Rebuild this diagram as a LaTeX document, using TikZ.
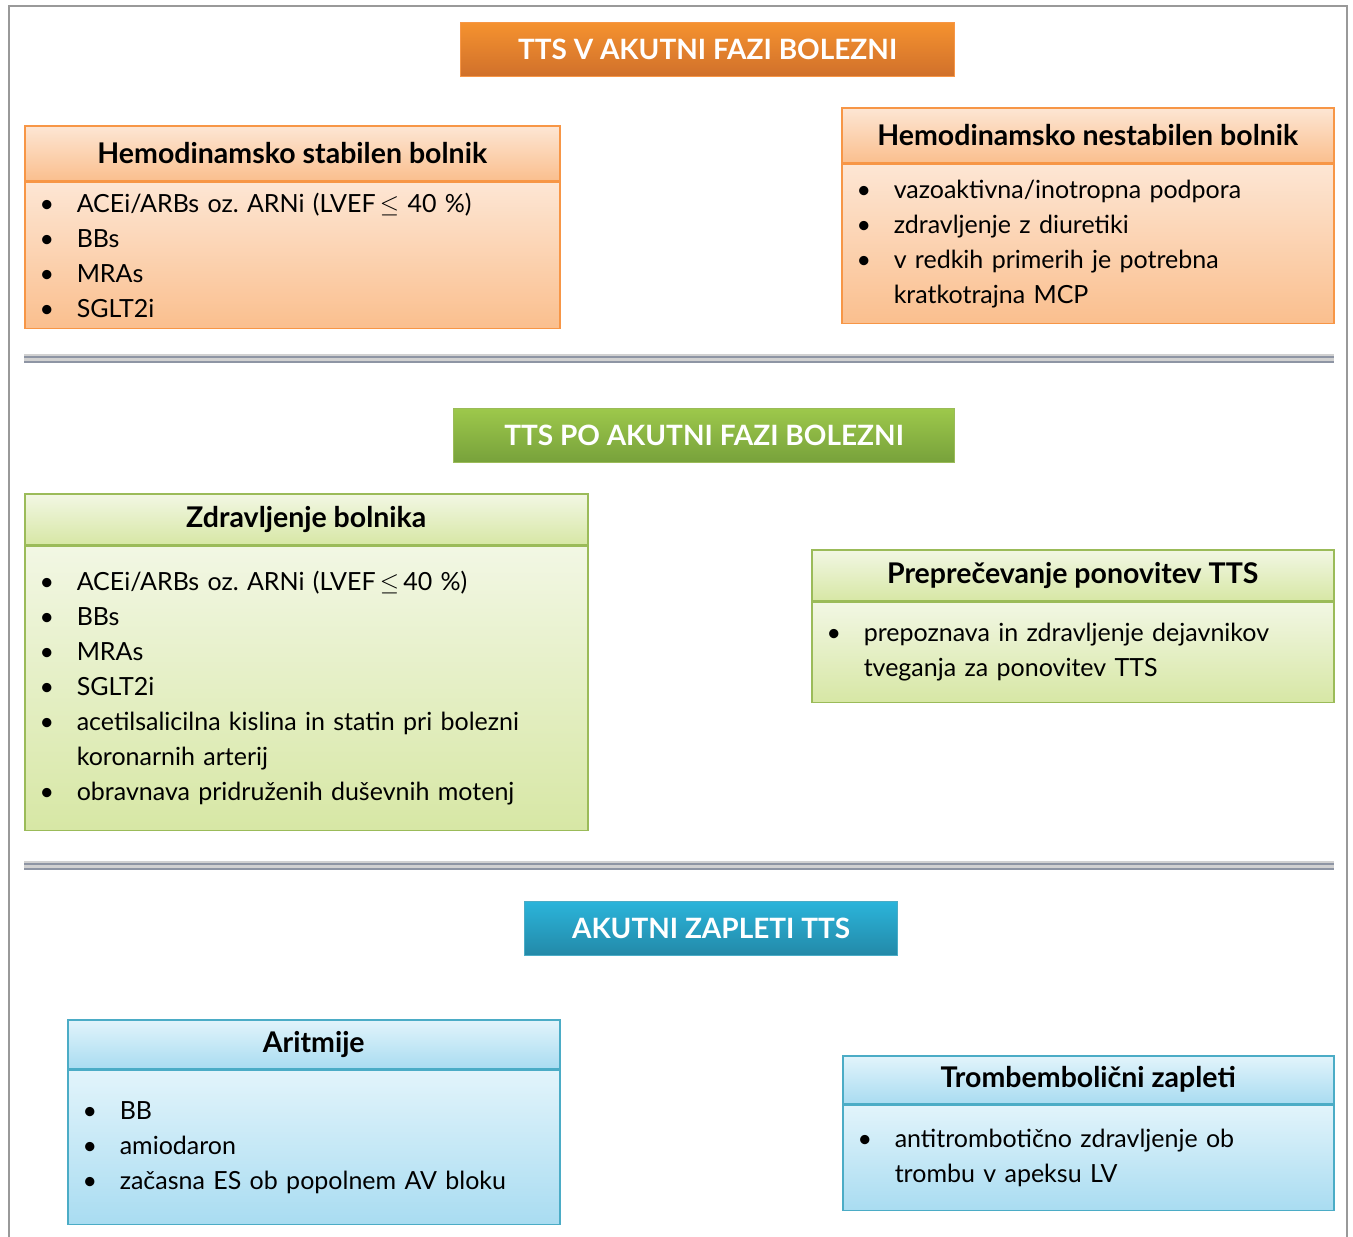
\documentclass[tikz,border=0pt]{standalone}
\usepackage{fontspec}
\setmainfont{Lato}
\usetikzlibrary{positioning}
\definecolor{mGray}{HTML}{999999}
\definecolor{mSep}{HTML}{8E95A4}
\definecolor{mOrange}{HTML}{F79646}
\definecolor{mOrangeTop}{HTML}{F5922F}
\definecolor{mOrangeBot}{HTML}{D0702B}
\definecolor{mOrangeHi}{HTML}{FDE6D4}
\definecolor{mOrangeLo}{HTML}{FABF8E}
\definecolor{mGreen}{HTML}{9BBB59}
\definecolor{mGreenTop}{HTML}{9DC84B}
\definecolor{mGreenBot}{HTML}{77A13B}
\definecolor{mGreenHi}{HTML}{F2F7E4}
\definecolor{mGreenLo}{HTML}{D7E7A5}
\definecolor{mBlue}{HTML}{4BACC6}
\definecolor{mBlueTop}{HTML}{2BB4DA}
\definecolor{mBlueBot}{HTML}{2389A8}
\definecolor{mBlueHi}{HTML}{E2F4FB}
\definecolor{mBlueLo}{HTML}{A9DCF1}
\newcommand{\itm}[1]{\makebox[34pt][l]{\makebox[8pt]{\textbullet}}#1}
\newcommand{\cnt}[1]{\makebox[34pt][l]{}#1}
\frenchspacing

\begin{document}
\begin{tikzpicture}[x=1pt, y=-1pt,
  banner/.style={draw=#1, line width=1.2pt, minimum height=54pt, text=white,
                 font=\bfseries\fontsize{28}{32}\selectfont, anchor=north west},
  hdr/.style={draw=#1, line width=1.5pt, font=\bfseries\fontsize{28.5}{32}\selectfont,
              anchor=north west},
  bdy/.style={draw=#1, line width=1.5pt, inner xsep=18pt, align=left,
              font=\fontsize{25}{35}\selectfont},
  node distance=0pt,
]
  \useasboundingbox (0,0) rectangle (1353,1237);
  % frame
  \draw[mGray, line width=1.5pt] (9,1240) -- (9,6) -- (1347,6) -- (1347,1240);

  % acute phase
  \node[banner=mOrange, top color=mOrangeTop, bottom color=mOrangeBot,
        minimum width=494pt] (acute) at (460,22) {TTS V AKUTNI FAZI BOLEZNI};

  \node[hdr=mOrange, top color=mOrangeHi, bottom color=mOrangeLo,
        minimum width=535pt, minimum height=55pt] (stabH) at (24,125) {Hemodinamsko stabilen bolnik};
  \node[bdy=mOrange, top color=mOrangeHi, bottom color=mOrangeLo,
        minimum width=535pt, minimum height=146pt, text width=499pt, below=of stabH] (stab) {%
    \itm{ACEi/ARBs oz. ARNi (LVEF\,$\leq$\ 40 \%)}\\
    \itm{BBs}\\
    \itm{MRAs}\\
    \itm{SGLT2i}};

  \node[hdr=mOrange, top color=mOrangeHi, bottom color=mOrangeLo,
        minimum width=492pt, minimum height=55pt] (nestH) at (841,107) {Hemodinamsko nestabilen bolnik};
  \node[bdy=mOrange, top color=mOrangeHi, bottom color=mOrangeLo,
        minimum width=492pt, minimum height=159pt, text width=456pt, below=of nestH] (nest) {%
    \itm{vazoaktivna/inotropna podpora}\\
    \itm{zdravljenje z diuretiki}\\
    \itm{v redkih primerih je potrebna}\\
    \cnt{kratkotrajna MCP}};

  \fill[black!18] (24,354) rectangle (1334,363);
  \draw[mSep, line width=2pt] (24,357) -- (1334,357);
  \draw[mSep, line width=2pt] (24,362) -- (1334,362);

  % after acute phase
  \node[banner=mGreen, top color=mGreenTop, bottom color=mGreenBot,
        minimum width=501pt] (post) at (453,408) {TTS PO AKUTNI FAZI BOLEZNI};

  \node[hdr=mGreen, top color=mGreenHi, bottom color=mGreenLo,
        minimum width=563pt, minimum height=51pt] (treatH) at (24,493) {Zdravljenje bolnika};
  \node[bdy=mGreen, top color=mGreenHi, bottom color=mGreenLo,
        minimum width=563pt, minimum height=284pt, text width=527pt, below=of treatH] (treat) {%
    \itm{ACEi/ARBs oz. ARNi (LVEF\,$\leq$\,40 \%)}\\
    \itm{BBs}\\
    \itm{MRAs}\\
    \itm{SGLT2i}\\
    \itm{acetilsalicilna kislina in statin pri bolezni}\\
    \cnt{koronarnih arterij}\\
    \itm{obravnava pridruženih duševnih motenj}};

  \node[hdr=mGreen, top color=mGreenHi, bottom color=mGreenLo,
        minimum width=522pt, minimum height=51pt] (prevH) at (811,549) {Preprečevanje ponovitev TTS};
  \node[bdy=mGreen, top color=mGreenHi, bottom color=mGreenLo,
        minimum width=522pt, minimum height=100pt, text width=486pt, below=of prevH] (prev) {%
    \itm{prepoznava in zdravljenje dejavnikov}\\
    \cnt{tveganja za ponovitev TTS}};

  \fill[black!18] (24,861) rectangle (1334,870);
  \draw[mSep, line width=2pt] (24,864) -- (1334,864);
  \draw[mSep, line width=2pt] (24,869) -- (1334,869);

  % complications
  \node[banner=mBlue, top color=mBlueTop, bottom color=mBlueBot,
        minimum width=373pt] (compl) at (524,901) {AKUTNI ZAPLETI TTS};

  \node[hdr=mBlue, top color=mBlueHi, bottom color=mBlueLo,
        minimum width=492pt, minimum height=49pt] (arrH) at (67,1019) {Aritmije};
  \node[bdy=mBlue, top color=mBlueHi, bottom color=mBlueLo,
        minimum width=492pt, minimum height=154pt, text width=456pt, below=of arrH] (arr) {%
    \itm{BB}\\
    \itm{amiodaron}\\
    \itm{začasna ES ob popolnem AV bloku}};

  \node[hdr=mBlue, top color=mBlueHi, bottom color=mBlueLo,
        minimum width=491pt, minimum height=48pt] (trombH) at (842,1055) {Trombembolični zapleti};
  \node[bdy=mBlue, top color=mBlueHi, bottom color=mBlueLo,
        minimum width=491pt, minimum height=105pt, text width=455pt, below=of trombH] (tromb) {%
    \itm{antitrombotično zdravljenje ob}\\
    \cnt{trombu v apeksu LV}};
\end{tikzpicture}
\end{document}
